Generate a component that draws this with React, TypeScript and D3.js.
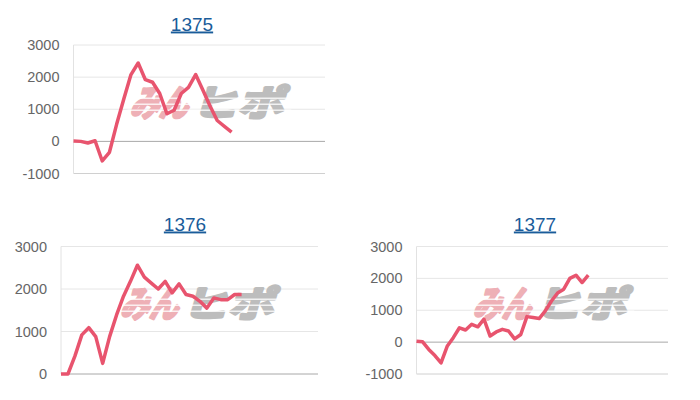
import React from "react";
import * as d3 from "d3";

// machine numbers (chart titles)
const titles = ["1375", "1376", "1377"];

// difference values per chart
const values1375 = [
  10, 0, -50, 20, -610, -340, 530, 1320, 2080, 2440, 1920, 1840, 1490, 860,
  970, 1490, 1680, 2080, 1600, 1100, 650, 470, 290,
];
const values1376 = [
  0, 0, 420, 920, 1090, 880, 250, 880, 1390, 1830, 2180, 2560, 2280, 2140,
  2000, 2180, 1910, 2120, 1870, 1830, 1710, 1550, 1790, 1750, 1750, 1870,
  1870,
];
const values1377 = [
  30, 10, -230, -420, -650, -130, 140, 450, 380, 560, 480, 720, 190, 320,
  400, 350, 100, 240, 800, 770, 740, 980, 1290, 1540, 1660, 2000, 2100,
  1870, 2100,
];

// number of x slots on each chart's horizontal axis
const slotCounts = [35, 37, 41];

const ticksWithNeg = [-1000, 0, 1000, 2000, 3000];
const ticksPos = [0, 1000, 2000, 3000];

const LINE = "#e8546e";

type Box = {
  left: number;
  right: number;
  top: number;
  bottom: number;
  titleX: number;
  titleY: number;
};

const layouts: Box[] = [
  { left: 73.5, right: 325, top: 45, bottom: 173.5, titleX: 192, titleY: 30.5 },
  { left: 61, right: 318, top: 246.5, bottom: 374, titleX: 185, titleY: 230.5 },
  { left: 416.5, right: 668, top: 246.5, bottom: 374, titleX: 535, titleY: 230.5 },
];

function MiniChart({
  title,
  values,
  ticks,
  slots,
  box,
}: {
  title: string;
  values: number[];
  ticks: number[];
  slots: number;
  box: Box;
}) {
  const x = d3.scaleLinear().domain([0, slots]).range([box.left, box.right]);
  const y = d3
    .scaleLinear()
    .domain([ticks[0], ticks[ticks.length - 1]])
    .range([box.bottom, box.top]);

  const line = d3
    .line<number>()
    .x((d, i) => x(i))
    .y((d) => y(d));

  const cx = (box.left + box.right) / 2 + 10;
  const cy = (box.top + box.bottom) / 2 - 6;

  return (
    <g>
      <text
        x={box.titleX}
        y={box.titleY}
        textAnchor="middle"
        fontSize={19}
        fill="#1a5c9a"
        textDecoration="underline"
        fontFamily="Arial, 'Liberation Sans', sans-serif"
      >
        {title}
      </text>

      {ticks.map((t, i) => (
        <g key={t}>
          <line
            x1={box.left}
            x2={box.right}
            y1={y(t)}
            y2={y(t)}
            stroke={t === 0 ? "#a8a8a8" : i === 0 ? "#d0d0d0" : "#e6e6e6"}
            strokeWidth={1}
          />
          <text
            x={box.left - 14}
            y={y(t)}
            dy="0.35em"
            textAnchor="end"
            fontSize={14.5}
            fill="#666"
            fontFamily="Arial, 'Liberation Sans', sans-serif"
          >
            {t}
          </text>
        </g>
      ))}
      <line
        x1={box.left}
        x2={box.left}
        y1={box.top}
        y2={box.bottom}
        stroke="#e2e2e2"
      />

      {/* watermark */}
      <g
        transform={`translate(${cx},${cy}) skewX(-16)`}
        fontFamily="'Noto Sans CJK JP', sans-serif"
        fontWeight={700}
        fontSize={36}
        strokeLinejoin="round"
      >
        <text
          x={-76}
          y={13}
          fill="#eeb0b6"
          stroke="#eeb0b6"
          strokeWidth={3}
          textLength={58}
          lengthAdjust="spacingAndGlyphs"
        >
          みん
        </text>
        <text
          x={-14}
          y={13}
          fill="#bdbdbd"
          stroke="#bdbdbd"
          strokeWidth={3}
          textLength={92}
          lengthAdjust="spacingAndGlyphs"
        >
          ヒポ
        </text>
        {[-5, 1, 7].map((o) => (
          <line
            key={o}
            x1={-80}
            x2={84}
            y1={o}
            y2={o}
            stroke="#fff"
            strokeWidth={1.3}
            opacity={0.8}
          />
        ))}
      </g>

      <path
        d={line(values) ?? ""}
        fill="none"
        stroke={LINE}
        strokeWidth={3.5}
        strokeLinejoin="round"
      />
    </g>
  );
}

export default function App() {
  const series = [values1375, values1376, values1377];
  const tickSets = [ticksWithNeg, ticksPos, ticksWithNeg];
  return (
    <svg
      width={700}
      height={400}
      style={{ position: "absolute", left: 0, top: 0, background: "#fff" }}
    >
      {series.map((v, i) => (
        <MiniChart
          key={titles[i]}
          title={titles[i]}
          values={v}
          ticks={tickSets[i]}
          slots={slotCounts[i]}
          box={layouts[i]}
        />
      ))}
    </svg>
  );
}
